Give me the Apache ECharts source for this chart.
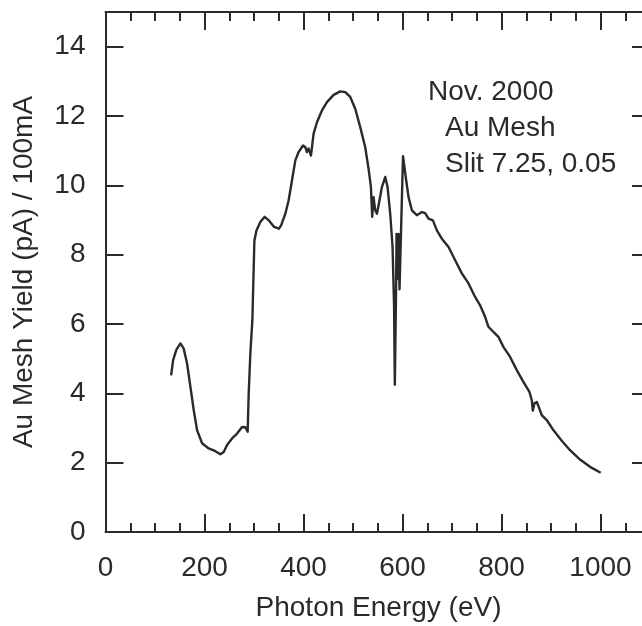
<!DOCTYPE html>
<html>
<head>
<meta charset="utf-8">
<script src="https://cdn.jsdelivr.net/npm/echarts@6/dist/echarts.min.js"></script>
<style>
html,body{margin:0;padding:0;background:#fff;}
#chart{width:642px;height:626px;}
</style>
</head>
<body>
<div id="chart"></div>
<script>
// Photon energy (eV)
var energy = [
  132.6, 136.6, 143.3, 151.4, 158, 164.8, 171.5, 178.2, 185, 195.1,
  208.5, 222, 232, 238.8, 245.6, 255.7, 265.8, 275.9, 282.5, 287.2,
  289.3, 292.6, 296.7, 300.8, 305, 313, 321.5, 329.8, 340.6, 350.5,
  355, 363.3, 370, 376.7, 383.5, 390.1, 399, 403.6, 407, 410.3,
  415.1, 420.4, 427.2, 437.3, 447.4, 460.8, 474.3, 484.4, 494.4, 504.5,
  514.6, 524.7, 531.4, 536.2, 538.8, 541.5, 544.9, 548.3, 551.6, 558.4,
  565.1, 569.8, 575.2, 579.9, 583, 584.5, 587, 588, 590, 592,
  594, 595.5, 601, 607.5, 612.2, 618.9, 629, 639.1, 645.8, 652.5,
  661.4, 669.4, 679.5, 693, 706.4, 719.9, 733.4, 746.7, 756.8, 767,
  773.6, 783.7, 793.7, 803.8, 817.4, 830.9, 844.2, 856.4, 861.2, 863.2,
  866.5, 871.3, 876.5, 881.3, 891.4, 904.7, 921.7, 938.5, 958.6, 978.8,
  1000.4
];
// Au mesh yield (pA) / 100mA
var yieldVals = [
  4.52, 4.96, 5.26, 5.44, 5.29, 4.86, 4.19, 3.52, 2.94, 2.56,
  2.41, 2.33, 2.24, 2.31, 2.51, 2.70, 2.84, 3.03, 3.02, 2.89,
  4.0, 5.15, 6.11, 8.41, 8.70, 8.95, 9.09, 8.99, 8.80, 8.75,
  8.85, 9.18, 9.57, 10.14, 10.72, 10.96, 11.15, 11.10, 10.96, 11.06,
  10.86, 11.49, 11.82, 12.16, 12.40, 12.61, 12.71, 12.69, 12.55, 12.21,
  11.68, 11.10, 10.48, 9.95, 9.09, 9.66, 9.28, 9.18, 9.42, 9.95,
  10.24, 9.95, 9.18, 8.22, 6.5, 4.25, 7.0, 8.6, 7.3, 8.6,
  7.0, 7.0, 10.84, 10.14, 9.66, 9.28, 9.14, 9.23, 9.20, 9.04,
  8.99, 8.70, 8.46, 8.22, 7.84, 7.46, 7.17, 6.78, 6.54, 6.20,
  5.92, 5.77, 5.63, 5.34, 5.05, 4.67, 4.33, 4.04, 3.80, 3.50,
  3.71, 3.75, 3.56, 3.37, 3.23, 2.94, 2.63, 2.36, 2.09, 1.88,
  1.71
];
var annotationLines = ['Nov. 2000', 'Au Mesh', 'Slit 7.25, 0.05'];
var xAxisTitle = 'Photon Energy (eV)';
var yAxisTitle = 'Au Mesh Yield (pA) / 100mA';

var FONT = '"Liberation Sans", Arial, Helvetica, sans-serif';
var INK = '#2a2a2a';

var seriesData = energy.map(function (e, i) { return [e, yieldVals[i]]; });

var chart = echarts.init(document.getElementById('chart'), null, {renderer: 'canvas'});

var lineStyle = {color: INK, width: 2};
var plain = function (v) { return String(v); };

chart.setOption({
  animation: false,
  backgroundColor: '#fff',
  grid: {left: 105.5, right: -57.5, top: 12, bottom: 94, containLabel: false, outerBoundsMode: 'none'},
  xAxis: [{
    type: 'value', position: 'bottom', min: 0, max: 1200, interval: 200,
    axisLine: {show: true, onZero: false, lineStyle: lineStyle},
    axisTick: {show: true, inside: true, length: 18, lineStyle: lineStyle},
    minorTick: {show: true, splitNumber: 4, length: 9, lineStyle: lineStyle},
    splitLine: {show: false}, minorSplitLine: {show: false},
    axisLabel: {show: true, fontSize: 28, color: INK, fontFamily: FONT, margin: 22, showMaxLabel: false, formatter: plain},
    name: xAxisTitle, nameLocation: 'middle', nameGap: 62,
    nameTextStyle: {fontSize: 28, color: INK, fontFamily: FONT, padding: [0, 48, 0, 0]}
  }, {
    type: 'value', position: 'top', min: 0, max: 1200, interval: 200,
    axisLine: {show: true, onZero: false, lineStyle: lineStyle},
    axisTick: {show: true, inside: true, length: 18, lineStyle: lineStyle},
    minorTick: {show: true, splitNumber: 4, length: 9, lineStyle: lineStyle},
    splitLine: {show: false},
    axisLabel: {show: false}
  }],
  yAxis: [{
    type: 'value', position: 'left', min: 0, max: 15, interval: 2,
    axisLine: {show: true, onZero: false, lineStyle: lineStyle},
    axisTick: {show: true, inside: true, length: 18, lineStyle: lineStyle},
    splitLine: {show: false},
    axisLabel: {show: true, fontSize: 28, color: INK, fontFamily: FONT, margin: 20, showMaxLabel: false, formatter: plain},
    name: yAxisTitle, nameLocation: 'middle', nameGap: 67,
    nameTextStyle: {fontSize: 28, color: INK, fontFamily: FONT}
  }, {
    type: 'value', position: 'right', offset: -49.5, min: 0, max: 15, interval: 2,
    axisLine: {show: true, onZero: false, lineStyle: lineStyle},
    axisTick: {show: true, inside: true, length: 18, lineStyle: lineStyle},
    splitLine: {show: false},
    axisLabel: {show: false}
  }],
  graphic: [
    {type: 'text', left: 428, top: 78, style: {text: annotationLines[0], font: '28px ' + FONT, fill: INK}},
    {type: 'text', left: 445, top: 114, style: {text: annotationLines[1], font: '28px ' + FONT, fill: INK}},
    {type: 'text', left: 445, top: 150, style: {text: annotationLines[2], font: '28px ' + FONT, fill: INK}}
  ],
  series: [{
    type: 'line', xAxisIndex: 0, yAxisIndex: 0,
    data: seriesData, showSymbol: false, symbol: 'none',
    lineStyle: {color: INK, width: 2.4, join: 'round'},
    silent: true
  }]
});
</script>
</body>
</html>
